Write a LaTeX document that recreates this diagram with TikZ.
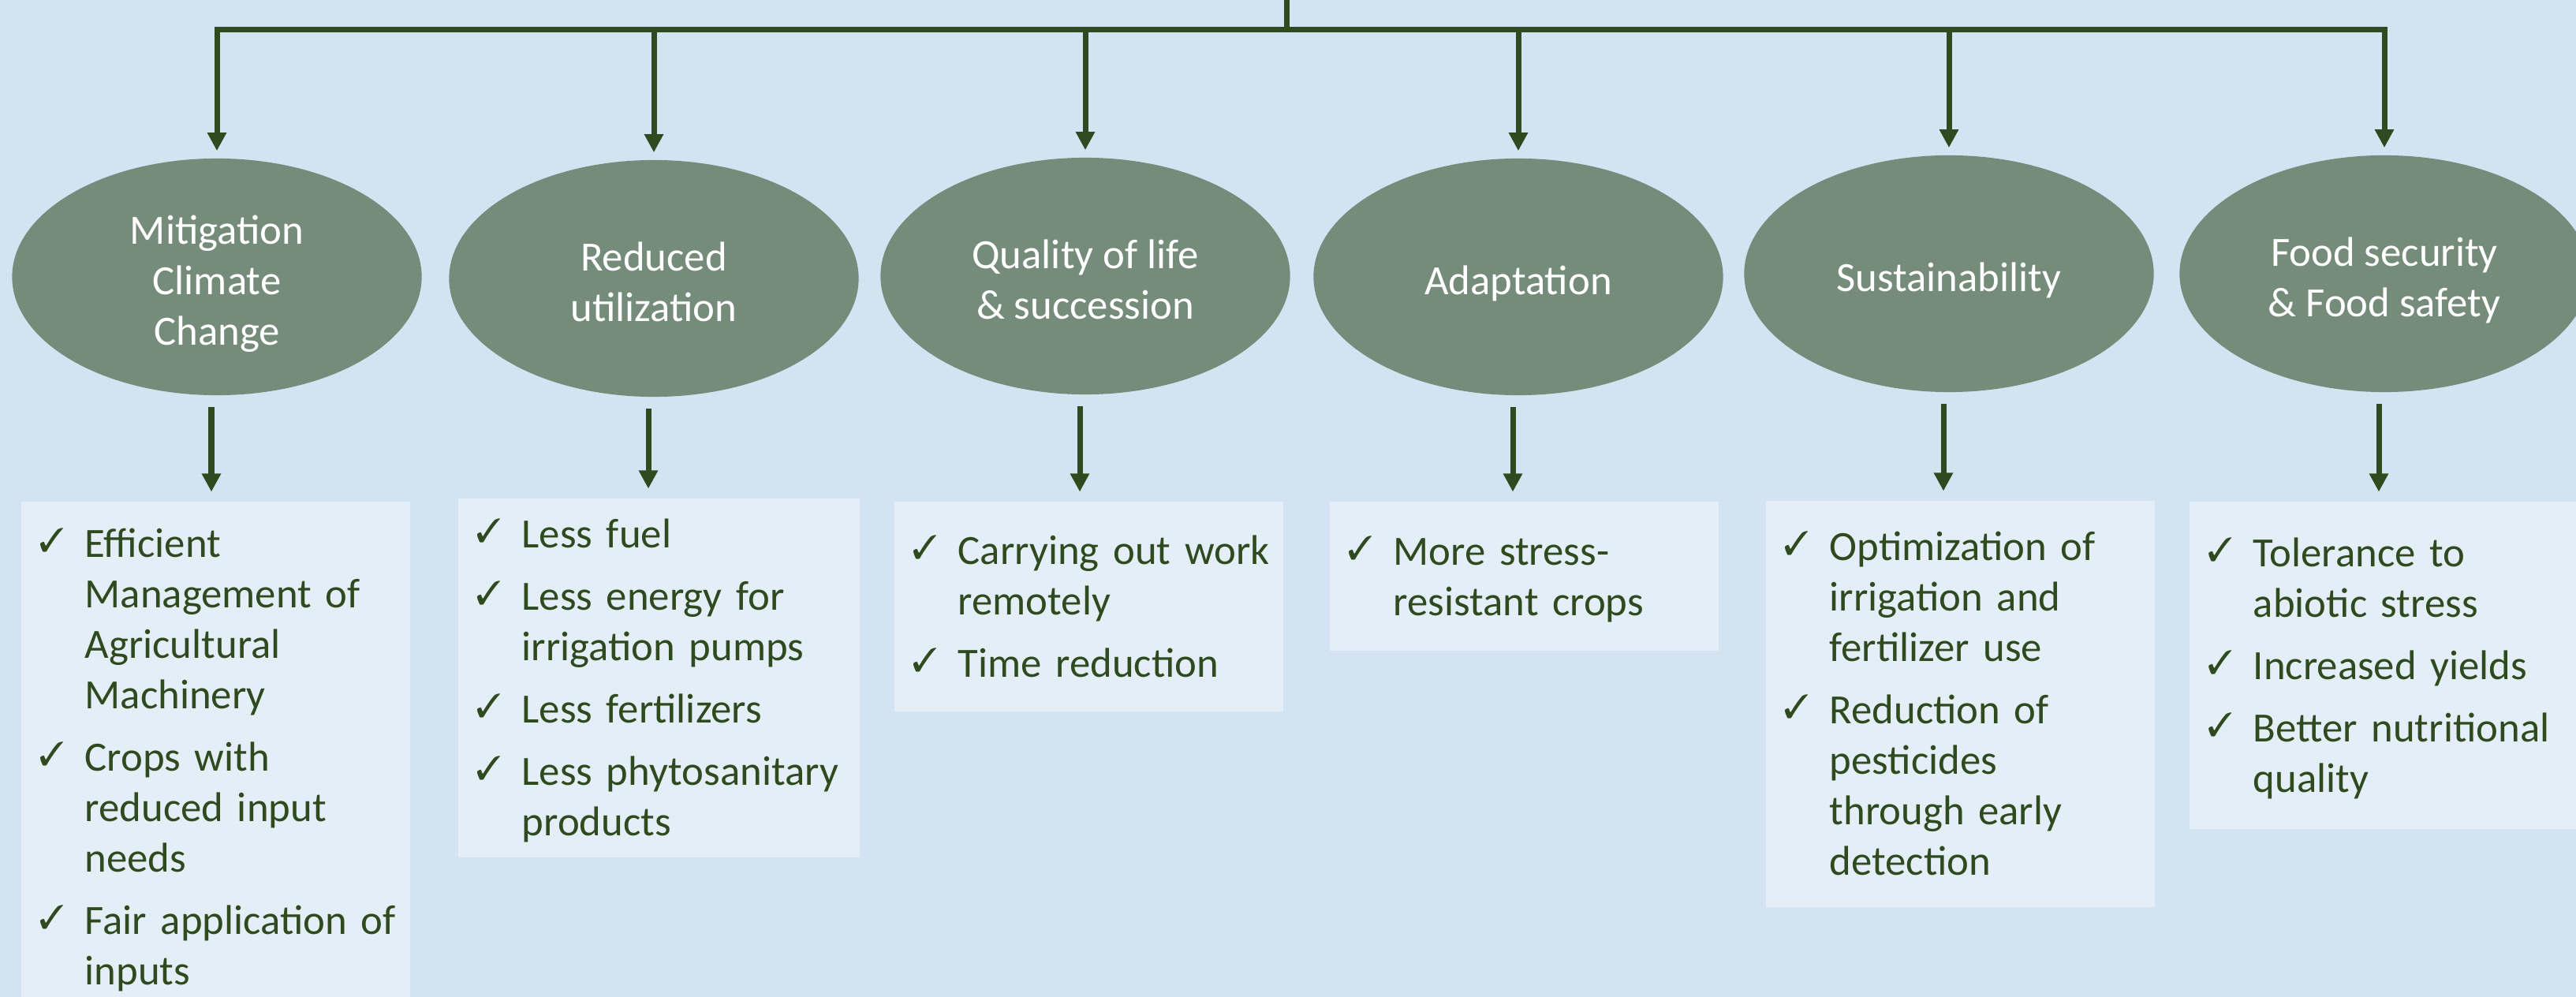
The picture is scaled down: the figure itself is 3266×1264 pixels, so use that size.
\documentclass[tikz,border=0pt]{standalone}
\usepackage{fontspec}
\usepackage{pifont}
\setmainfont{Carlito}
\usetikzlibrary{shapes.geometric,arrows.meta,positioning}

\definecolor{skyback}{RGB}{212,227,242}
\definecolor{paleback}{RGB}{228,238,247}
\definecolor{sage}{RGB}{118,140,123}
\definecolor{forest}{RGB}{47,74,31}

\newcommand{\lift}{\rule{0pt}{0.64cm}}
\newcommand{\tick}[1]{\par\addvspace{0.15cm}\noindent\hangindent=0.58cm\hangafter=1%
  \makebox[0.58cm][l]{\raisebox{0.07cm}{\fontsize{12}{12}\selectfont\ding{51}}}\strut#1\strut\par}

\begin{document}
\begin{tikzpicture}[x=0.01cm, y=-0.01cm,
    goal/.style={ellipse, fill=sage, text=white, minimum width=5.19cm, minimum height=3cm,
      inner sep=0pt, align=center, font=\fontsize{15}{18.2}\selectfont,
      execute at end node=\strut},
    panel/.style={rectangle, fill=paleback, anchor=north west, inner sep=0pt},
    list/.style={inner sep=0pt, text width=4.9cm, align=left, text=forest,
      font=\fontsize{15}{18.2}\selectfont},
    link/.style={draw=forest, line width=0.07cm},
    arr/.style={link, -{Triangle[length=0.23cm,width=0.23cm]}}]

  \useasboundingbox (0,0) rectangle (3266,1264);
  \clip (0,0) rectangle (3266,1264);
  \fill[skyback] (0,0) rectangle (3266,1264);

  \coordinate (root) at (1631,0);
  \coordinate (bar) at (1631,37.5);

  % the six goals
  \foreach \n/\x/\y/\txt in {1/275/351/{Mitigation\\Climate\\Change},
      2/829/353/{Reduced\\utilization}, 3/1376/350/{Quality of life\\\& succession},
      4/1925/351/{Adaptation}, 5/2471/347/{Sustainability},
      6/3023/347/{Food security\\\& Food safety}} {
    \node[goal] (e\n) at (\x,\y) {\lift\txt};
  }

  % panels under the goals
  \node[panel, minimum width=4.93cm, minimum height=6.48cm] (b1) at (26,635) {};
  \node[list, right=0.23cm of b1.west, yshift=0.12cm] (l1) {%
    \tick{Efficient\newline Management of\newline Agricultural\newline Machinery}%
    \tick{Crops with\newline reduced input\newline needs}%
    \tick{Fair application of\newline inputs}};

  \node[panel, minimum width=5.09cm, minimum height=4.55cm] (b2) at (580,631) {};
  \node[list, right=0.23cm of b2.west, yshift=0.12cm] (l2) {%
    \tick{Less fuel}%
    \tick{Less energy for\newline irrigation pumps}%
    \tick{Less fertilizers}%
    \tick{Less phytosanitary\newline products}};

  \node[panel, minimum width=4.93cm, minimum height=2.665cm] (b3) at (1133,635) {};
  \node[list, right=0.23cm of b3.west, yshift=0.12cm] (l3) {%
    \tick{Carrying out work\newline remotely}%
    \tick{Time reduction}};

  \node[panel, minimum width=4.93cm, minimum height=1.89cm] (b4) at (1685,635) {};
  \node[list, right=0.23cm of b4.west, yshift=0.12cm] (l4) {%
    \tick{More stress-\newline resistant crops}};

  \node[panel, minimum width=4.93cm, minimum height=5.145cm] (b5) at (2238,634) {};
  \node[list, right=0.23cm of b5.west, yshift=0.12cm] (l5) {%
    \tick{Optimization of\newline irrigation and\newline fertilizer use}%
    \tick{Reduction of\newline pesticides\newline through early\newline detection}};

  \node[panel, minimum width=5.2cm, minimum height=4.15cm] (b6) at (2775,635) {};
  \node[list, right=0.23cm of b6.west, yshift=0.12cm] (l6) {%
    \tick{Tolerance to\newline abiotic stress}%
    \tick{Increased yields}%
    \tick{Better nutritional\newline quality}};

  % connectors
  \draw[link] (root) -- (bar);
  \draw[link, line cap=rect] (e1.north |- bar) -- (e6.north |- bar);
  \foreach \n in {1,...,6} {
    \draw[arr, shorten >=0.09cm] (e\n.north |- bar) -- (e\n.north);
    \draw[arr, shorten <=0.14cm, shorten >=0.115cm] ([xshift=-0.07cm]e\n.south)
      -- ([xshift=-0.07cm]e\n.south |- b\n.north);
  }
\end{tikzpicture}
\end{document}
